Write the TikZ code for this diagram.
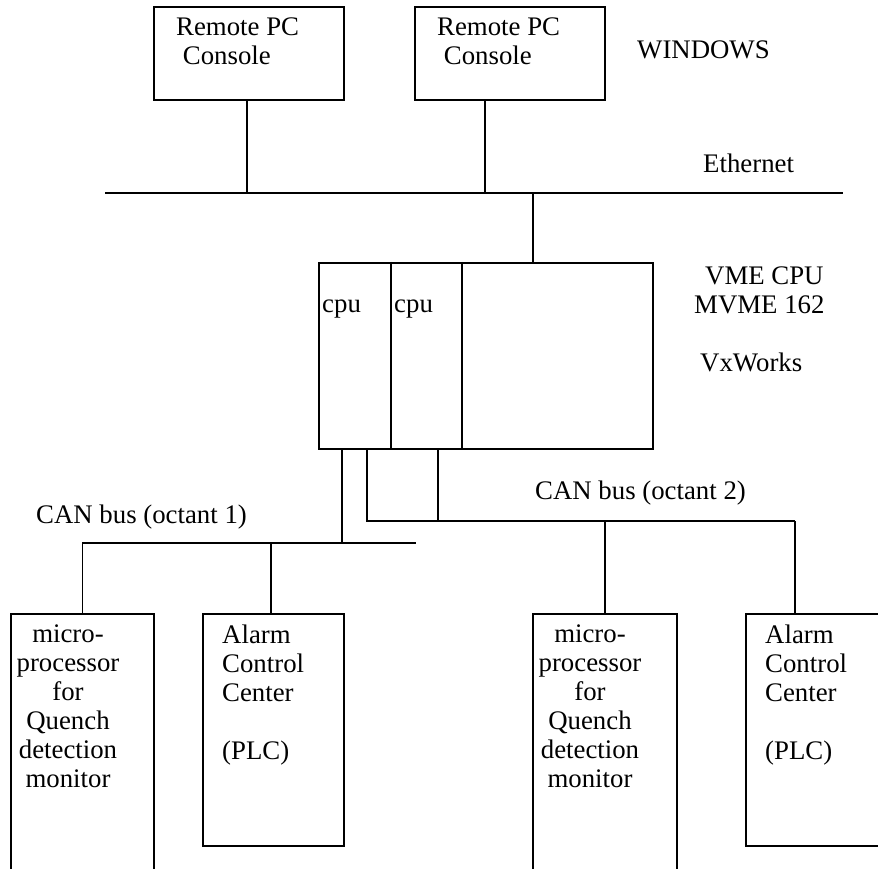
\documentclass[tikz,border=0pt]{standalone}
\usepackage{fontspec}
\setmainfont{Liberation Serif}
\usetikzlibrary{calc}
\definecolor{cLine}{RGB}{0,0,0}
\definecolor{cText}{RGB}{0,0,0}
\def\boxW{2.1pt}
\def\busW{1.8pt}
\tikzset{
  unit/.style={draw=cLine,line width=\boxW,inner sep=0pt},
  wire/.style={draw=cLine,line width=\busW},
  txt/.style={text=cText,inner sep=0pt},
}

\begin{document}
\begin{tikzpicture}[x=1pt,y=-1pt,font=\fontsize{26.8}{29}\selectfont]

\clip (0,0) rectangle (878,869);

% =================== CONSOLAS ===================
\node[unit,minimum width=190pt,minimum height=93pt] (pc1) at (249,53.5) {};
\node[unit,minimum width=190pt,minimum height=93pt] (pc2) at (510,53.5) {};
\node[txt,anchor=north west,align=left] (pc1txt) at (176,18)
  {Remote PC\\\hspace{0.25em}Console};
\node[txt,anchor=north west,align=left] (pc2txt) at (437,18)
  {Remote PC\\\hspace{0.25em}Console};
\node[txt,anchor=base west] (win) at (637,59) {WINDOWS};

% =================== ETHERNET ===================
\coordinate (ethW) at (105,193);
\coordinate (ethE) at (843,193);
\draw[wire] (ethW) -- (ethE);
\node[txt,anchor=base west] (eth) at (703,173) {Ethernet};
\draw[wire] ([xshift=-2pt]pc1.south) -- ([xshift=-2pt]pc1.south |- ethW);
\draw[wire] ([xshift=-25pt]pc2.south) -- ([xshift=-25pt]pc2.south |- ethW);

% =================== VME ===================
\node[unit,minimum width=334pt,minimum height=186pt] (vme) at (486,356) {};
\draw[wire] ([xshift=47pt]vme.north) -- ([xshift=47pt]vme.north |- ethW);
\draw[wire] ([xshift=73pt]vme.north west) -- ([xshift=73pt]vme.south west);
\draw[wire] ([xshift=144pt]vme.north west) -- ([xshift=144pt]vme.south west);
\node[txt,anchor=base west] (cpuA) at (322,312) {cpu};
\node[txt,anchor=base west] (cpuB) at (394,312) {cpu};
\node[txt,anchor=north west,align=left] (vmetxt) at (694,267)
  {\hspace{11pt}VME CPU\\MVME 162\\[29pt]\hspace{6pt}VxWorks};

% =================== CAN BUS ===================
\coordinate (can1W) at (82,543);
\coordinate (can1E) at (416,543);
\coordinate (can2W) at (367,521);
\coordinate (can2E) at (795,521);
\draw[wire] (can1W) -- (can1E);
\draw[wire] ([xshift=24pt]vme.south west) -- ([xshift=24pt]vme.south west |- can1W);
\draw[wire] (can2W |- vme.south) -- (can2W) -- (can2E);
\draw[wire] ([xshift=120pt]vme.south west) -- ([xshift=120pt]vme.south west |- can2W);
\node[txt,anchor=base west] (can1) at (36,523) {CAN bus (octant 1)};
\node[txt,anchor=base west] (can2) at (535,499) {CAN bus (octant 2)};

% =================== OCTANT 1 ===================
\node[unit,minimum width=143pt,minimum height=300pt] (qd1) at (82.5,764) {};
\node[unit,minimum width=141pt,minimum height=232pt] (acc1) at (273.5,730) {};
\draw[wire] (qd1.north) -- (qd1.north |- can1W);
\draw[wire] ([xshift=-2.5pt]acc1.north) -- ([xshift=-2.5pt]acc1.north |- can1W);
\node[txt,anchor=north,align=center] (qd1txt) at (68,625)
  {micro-\\processor\\for\\Quench\\detection\\monitor};
\node[txt,anchor=north west,align=left] (acc1txt) at (222,625)
  {Alarm\\Control\\Center\\[29pt](PLC)};

% =================== OCTANT 2 ===================
\node[unit,minimum width=144pt,minimum height=300pt] (qd2) at (605,764) {};
\node[unit,minimum width=141pt,minimum height=232pt] (acc2) at (816.5,730) {};
\draw[wire] (qd2.north) -- (qd2.north |- can2W);
\draw[wire] ([xshift=-21.5pt]acc2.north) -- ([xshift=-21.5pt]acc2.north |- can2W);
\node[txt,anchor=north,align=center] (qd2txt) at (590,625)
  {micro-\\processor\\for\\Quench\\detection\\monitor};
\node[txt,anchor=north west,align=left] (acc2txt) at (765,625)
  {Alarm\\Control\\Center\\[29pt](PLC)};

\end{tikzpicture}
\end{document}
